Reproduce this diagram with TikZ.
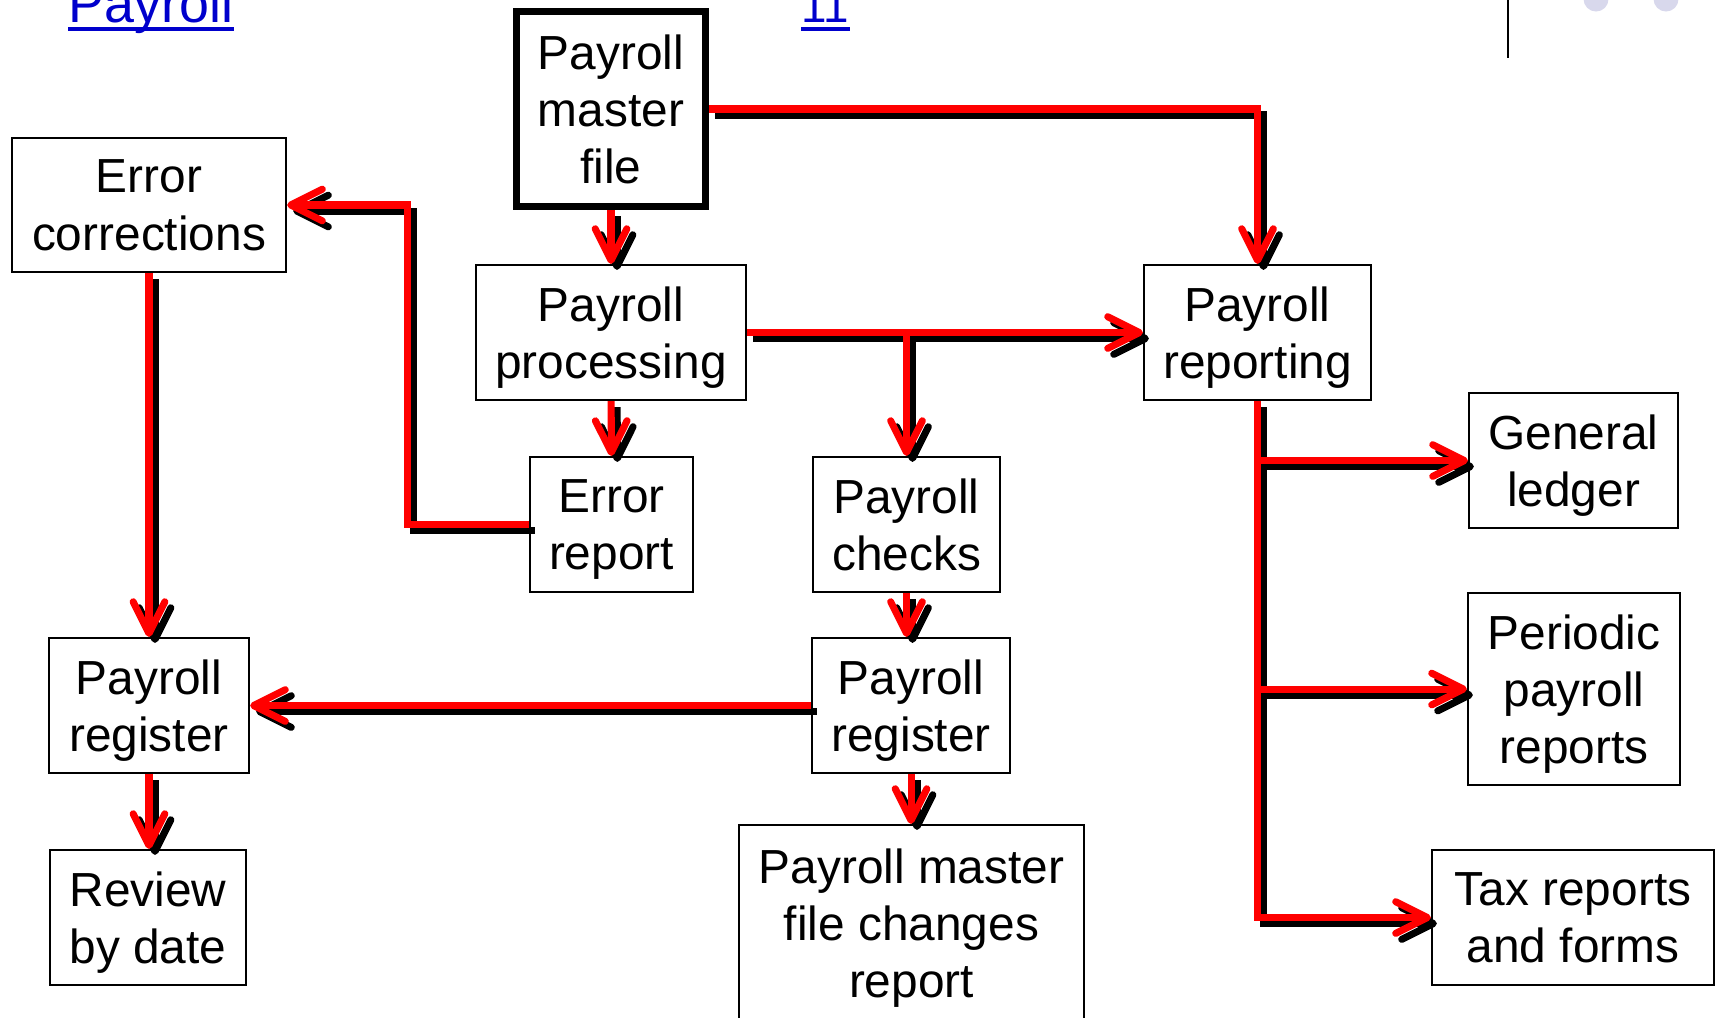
\documentclass[tikz,border=0pt]{standalone}
\usepackage{fontspec}
\setmainfont{Liberation Sans}
\usetikzlibrary{arrows.meta}
\definecolor{flowred}{RGB}{255,0,0}
\definecolor{linkblue}{RGB}{0,0,204}
\definecolor{dotlilac}{RGB}{216,216,236}

\begin{document}
\begin{tikzpicture}[
  x=0.01cm, y=-0.01cm,
  every node/.style={font=\fontsize{13.6}{16.3}\selectfont},
  box/.style={draw, line width=0.6pt, align=center, inner sep=0pt, text depth=0pt},
  masterbox/.style={box, line width=2pt},
  flow/.style={flowred, line width=2pt, -{Straight Barb[length=9pt,width=9pt,round]},
    preaction={draw=black, line width=2pt, transform canvas={shift={(0.06cm,-0.06cm)}}}},
  link/.style={text=linkblue, font=\fontsize{15.3}{18}\selectfont, inner sep=0pt}
]
\useasboundingbox (0,0) rectangle (1716,1017);

% leftovers of the slide at the top
\node[link, anchor=base west] (lnkpay) at (68,22) {Payroll};
\node[link, anchor=base west, font=\fontsize{13}{16}\selectfont] (lnknum) at (801,22) {11};
\draw[linkblue, line width=1.1pt] ([yshift=-2.1pt]lnkpay.base west) -- ([yshift=-2.1pt]lnkpay.base east);
\draw[linkblue, line width=1.1pt] ([yshift=-2.1pt]lnknum.base west) -- ([yshift=-2.1pt]lnknum.base east);
\draw[line width=0.5pt] (1508,0) -- (1508,58);
\fill[dotlilac] (1596,-1) circle[radius=0.125cm];
\fill[dotlilac] (1666,-1) circle[radius=0.125cm];

% boxes
\node[masterbox, minimum width=1.89cm, minimum height=1.95cm] (master) at (611,109) {Payroll\\master\\file};
\node[box, minimum width=2.74cm, minimum height=1.34cm] (errcorr) at (149,205) {Error\\corrections};
\node[box, minimum width=2.70cm, minimum height=1.35cm] (proc) at (611,332.5) {Payroll\\processing};
\node[box, minimum width=2.27cm, minimum height=1.35cm] (report) at (1257.5,332.5) {Payroll\\reporting};
\node[box, minimum width=1.63cm, minimum height=1.35cm] (errrep) at (611.5,524.5) {Error\\report};
\node[box, minimum width=1.87cm, minimum height=1.35cm] (checks) at (906.5,524.5) {Payroll\\checks};
\node[box, minimum width=2.09cm, minimum height=1.35cm] (ledger) at (1573.5,460.5) {General\\ledger};
\node[box, minimum width=2.00cm, minimum height=1.35cm] (regL) at (149,705.5) {Payroll\\register};
\node[box, minimum width=1.98cm, minimum height=1.35cm] (regM) at (911,705.5) {Payroll\\register};
\node[box, minimum width=2.12cm, minimum height=1.92cm] (periodic) at (1574,689) {Periodic\\payroll\\reports};
\node[box, minimum width=1.96cm, minimum height=1.35cm] (review) at (148,917.5) {Review\\by date};
\node[box, minimum width=3.45cm, minimum height=1.96cm] (changes) at (911.5,923) {Payroll master\\file changes\\report};
\node[box, minimum width=2.82cm, minimum height=1.35cm] (tax) at (1573,917.5) {Tax reports\\and forms};

% flows
\draw[flow] (master) -- (proc);
\draw[flow] (master.east) -| (report.north);
\draw[flow] (proc.east) -- (report.west);
\draw[flow] (proc.east -| checks.north) -- (checks.north);
\draw[flow] (proc) -- (errrep);
\draw[flow] (errrep.west) -- ++(-121,0) |- (errcorr.east);
\draw[flow] (errcorr) -- (regL);
\draw[flow] (regL.south) -- (regL.south |- review.north);
\draw[flow] (checks.south) -- (checks.south |- regM.north);
\draw[flow] (regM.west) -- (regL.east);
\draw[flow] (regM.south) -- (regM.south |- changes.north);
\draw[flow] (report.south) |- (tax.west);
\draw[flow] (report.south |- ledger.west) -- (ledger.west);
\draw[flow] (report.south |- periodic.west) -- (periodic.west);
\end{tikzpicture}
\end{document}
